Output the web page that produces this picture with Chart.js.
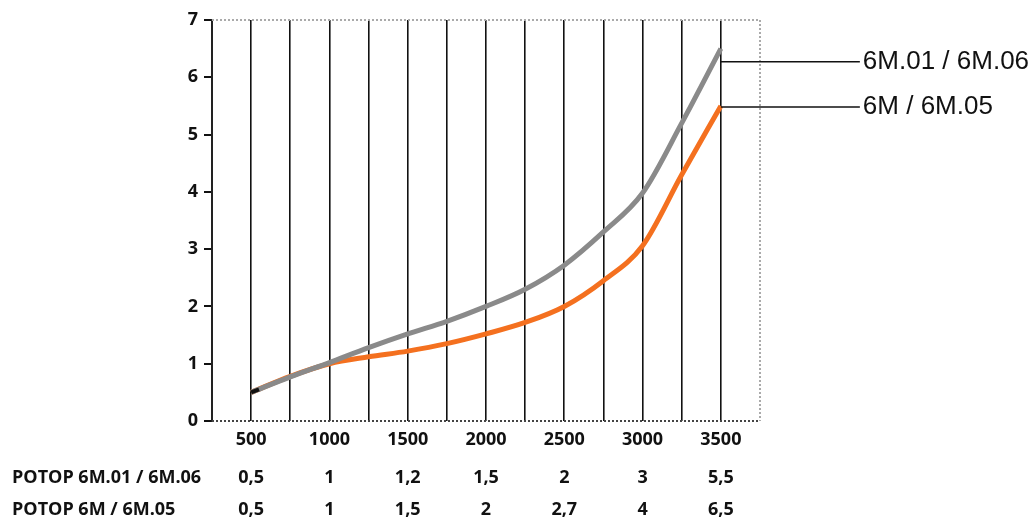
<!DOCTYPE html>
<html><head><meta charset="utf-8">
<script src="https://cdn.jsdelivr.net/npm/chart.js@4/dist/chart.umd.min.js"></script>
<style>html,body{margin:0;padding:0;background:#fff;}#wrap{width:1033px;height:519px;position:relative;}</style>
</head><body><div id="wrap"><canvas id="c"></canvas></div>
<script>
const rpm = [500,750,1000,1250,1500,1750,2000,2250,2500,2750,3000,3250,3500];
const grayVals = [0.5,0.77,1.02,1.28,1.52,1.74,2.0,2.3,2.72,3.3,3.98,5.2,6.5];
const orangeVals = [0.5,0.78,1.0,1.12,1.22,1.35,1.52,1.72,2.0,2.45,3.06,4.3,5.5];
const seriesNames = ['6M.01 / 6M.06','6M / 6M.05'];
const tableCats = [500,1000,1500,2000,2500,3000,3500];
const tableRowLabels = ['РОТОР 6M.01 / 6M.06','РОТОР 6M / 6M.05'];
const tableRow1 = ['0,5','1','1,2','1,5','2','3','5,5'];
const tableRow2 = ['0,5','1','1,5','2','2,7','4','6,5'];
const yTicks = [0,1,2,3,4,5,6,7];

const extras = {
  id:'extras',
  beforeDatasetsDraw(chart){
    const {ctx, chartArea:a} = chart;
    ctx.save();
    ctx.setLineDash([2,2]);
    ctx.strokeStyle='#aaa'; ctx.lineWidth=2;
    ctx.beginPath(); ctx.moveTo(a.left,a.top); ctx.lineTo(a.right,a.top); ctx.lineTo(a.right,a.bottom); ctx.stroke();
    ctx.strokeStyle='#444';
    ctx.beginPath(); ctx.moveTo(a.left,a.bottom); ctx.lineTo(a.right,a.bottom); ctx.stroke();
    ctx.restore();
  },
  afterDatasetsDraw(chart){
    const {ctx, scales:{x,y}} = chart;
    ctx.save();
    const xs = x.getPixelForValue(rpm[rpm.length-1]);
    const ends = [y.getPixelForValue(grayVals[grayVals.length-1])+13, y.getPixelForValue(orangeVals[orangeVals.length-1])+1];
    ctx.strokeStyle='#111'; ctx.lineWidth=1.5;
    ctx.font='26px "Liberation Sans", Arial, sans-serif';
    ctx.fillStyle='#111'; ctx.textBaseline='middle'; ctx.textAlign='left';
    ends.forEach((py,i)=>{
      ctx.beginPath(); ctx.moveTo(xs,py); ctx.lineTo(xs+139,py); ctx.stroke();
      ctx.fillText(seriesNames[i], xs+142, py);
    });
    ctx.strokeStyle='#111'; ctx.lineWidth=4;
    ctx.beginPath();
    ctx.moveTo(x.getPixelForValue(rpm[0]), y.getPixelForValue(grayVals[0]));
    ctx.lineTo(x.getPixelForValue(rpm[0]+50), y.getPixelForValue(grayVals[0]+0.05));
    ctx.stroke();
    ctx.font='bold 18px "Open Sans", sans-serif';
    ctx.fillStyle='#111';
    const rowsY=[478,510];
    [tableRow1,tableRow2].forEach((row,ri)=>{
      ctx.textAlign='left';
      ctx.fillText(tableRowLabels[ri], 12, rowsY[ri]);
      ctx.textAlign='center';
      row.forEach((t,ci)=>ctx.fillText(t, x.getPixelForValue(tableCats[ci]), rowsY[ri]));
    });
    ctx.restore();
  }
};

new Chart(document.getElementById('c'),{
  type:'line',
  data:{datasets:[
    {label:seriesNames[1], data:rpm.map((r,i)=>({x:r,y:orangeVals[i]})), borderColor:'#f4701f', borderWidth:5, pointRadius:0, cubicInterpolationMode:'monotone', order:2},
    {label:seriesNames[0], data:rpm.map((r,i)=>({x:r,y:grayVals[i]})), borderColor:'#8a8a8a', borderWidth:5, pointRadius:0, cubicInterpolationMode:'monotone', order:1}
  ]},
  options:{
    responsive:true, maintainAspectRatio:false, animation:false,
    layout:{padding:{top:20,right:273,left:0,bottom:0}},
    plugins:{legend:{display:false},tooltip:{enabled:false}},
    scales:{
      x:{type:'linear', min:250, max:3750,
        afterFit(s){s.height=98;},
        ticks:{stepSize:250, autoSkip:false, maxRotation:0, padding:8, color:'#111',
          font:{family:'"Open Sans", sans-serif', size:18, weight:'bold'},
          callback:v=> (v%500===0 && v>=500 && v<=3500) ? String(v) : ''},
        grid:{drawTicks:false, lineWidth:1.6,
          color:c=> (c.tick && c.tick.value>=500 && c.tick.value<=3500) ? '#111' : 'rgba(0,0,0,0)'},
        border:{display:false}
      },
      y:{min:0, max:7,
        afterFit(s){s.width=212;},
        afterBuildTicks(s){s.ticks=yTicks.map(v=>({value:v}));},
        ticks:{padding:6, color:'#111', font:{family:'"Open Sans", sans-serif', size:18, weight:'bold'}},
        grid:{drawOnChartArea:false, drawTicks:true, tickLength:8, color:'#111', lineWidth:2},
        border:{display:true, color:'#222', width:2}
      }
    }
  },
  plugins:[extras]
});
</script></body></html>
